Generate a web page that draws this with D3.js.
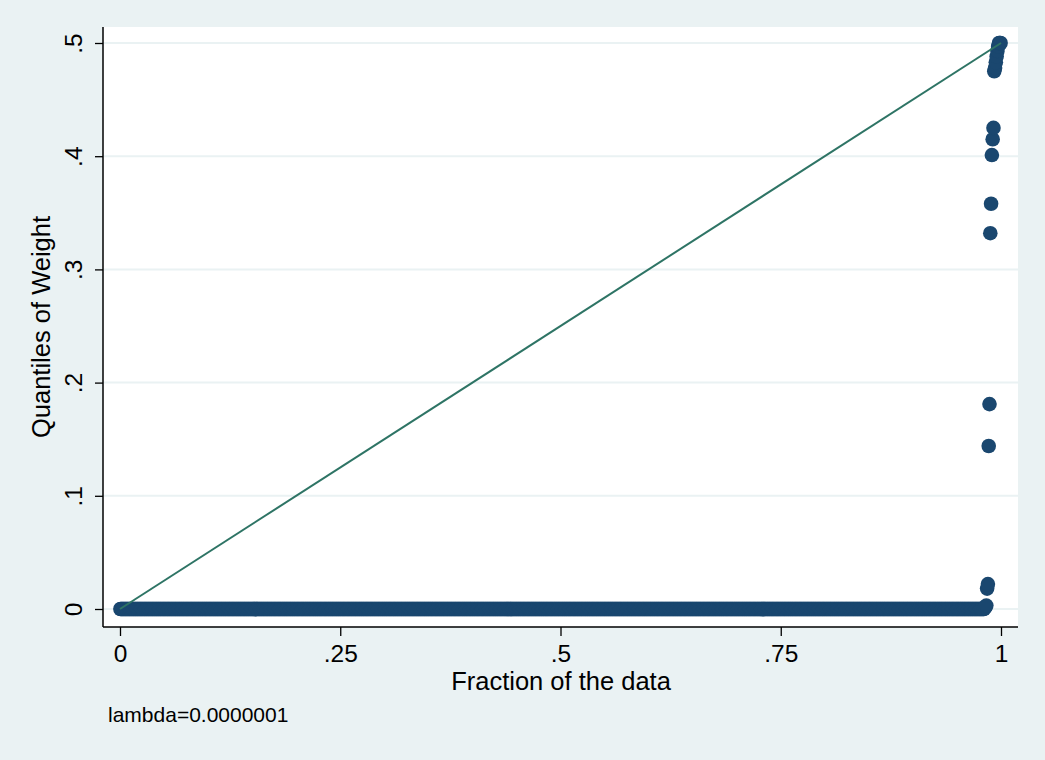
<!DOCTYPE html>
<html><head><meta charset="utf-8">
<script src="https://cdn.jsdelivr.net/npm/d3@7"></script>
<style>body{margin:0;background:#eaf2f3;} svg{display:block;} text{font-family:"Liberation Sans",Arial,sans-serif;}</style>
</head><body>
<script>
// Data
const zeroCount = 1090;            // observations with weight ~0 (the thick band)
const tailValues = [0.001, 0.002, 0.003, 0.018, 0.022, 0.144, 0.181, 0.332, 0.358, 0.401, 0.415, 0.425,
                    0.475, 0.478, 0.483, 0.488, 0.493, 0.497, 0.5, 0.5, 0.5];
const xTicks = [0, 0.25, 0.5, 0.75, 1];
const xTickLabels = ["0", ".25", ".5", ".75", "1"];
const yTicks = [0, 0.1, 0.2, 0.3, 0.4, 0.5];
const yTickLabels = ["0", ".1", ".2", ".3", ".4", ".5"];
const xTitle = "Fraction of the data";
const yTitle = "Quantiles of Weight";
const note = "lambda=0.0000001";

const values = new Array(zeroCount).fill(0).concat(tailValues);
const N = values.length;
const pts = values.map((v, i) => ({f: (i + 0.5) / N, v}));

const W = 1045, H = 760;
const svg = d3.select("body").append("svg").attr("width", W).attr("height", H);
svg.append("rect").attr("width", W).attr("height", H).attr("fill", "#eaf2f3");

const plot = {l: 103, r: 1018, t: 27, b: 627};
svg.append("rect").attr("x", plot.l).attr("y", plot.t).attr("width", plot.r - plot.l)
   .attr("height", plot.b - plot.t).attr("fill", "#ffffff");

const x = d3.scaleLinear().domain([0, 1]).range([120, 1001]);
const y = d3.scaleLinear().domain([0, 0.5]).range([609, 43]);

// gridlines
svg.append("g").selectAll("line").data(yTicks).join("line")
  .attr("x1", plot.l).attr("x2", plot.r).attr("y1", d => y(d)).attr("y2", d => y(d))
  .attr("stroke", "#eaf2f3").attr("stroke-width", 2);

// points
svg.append("g").selectAll("circle").data(pts).join("circle")
  .attr("cx", d => x(d.f)).attr("cy", d => y(d.v)).attr("r", 7.3)
  .attr("fill", "#1a476f");

// reference line
const ext = d3.extent(values);
svg.append("line").attr("x1", x(0)).attr("y1", y(ext[0])).attr("x2", x(1)).attr("y2", y(ext[1]))
  .attr("stroke", "#2e7465").attr("stroke-width", 2);

// axes
const yAxis = svg.append("g").attr("transform", `translate(${plot.l},0)`)
  .call(d3.axisLeft(y).tickValues(yTicks).tickFormat((d, i) => yTickLabels[i]).tickSize(8).tickPadding(0));
yAxis.select(".domain").attr("d", `M0,${plot.t}V${plot.b}`).attr("stroke", "#000").attr("stroke-width", 1.5);
yAxis.selectAll(".tick line").attr("stroke", "#000").attr("stroke-width", 1.3);
yAxis.selectAll(".tick text").attr("transform", "rotate(-90)").attr("x", 0).attr("y", -21)
  .attr("text-anchor", "middle").attr("dy", 0).attr("font-size", 24.5).attr("fill", "#000")
  .attr("font-family", "Liberation Sans, Arial, sans-serif");

const xAxis = svg.append("g").attr("transform", `translate(0,${plot.b})`)
  .call(d3.axisBottom(x).tickValues(xTicks).tickFormat((d, i) => xTickLabels[i]).tickSize(9).tickPadding(0));
xAxis.select(".domain").attr("d", `M${plot.l},0H${plot.r}`).attr("stroke", "#000").attr("stroke-width", 1.5);
xAxis.selectAll(".tick line").attr("stroke", "#000").attr("stroke-width", 1.3);
xAxis.selectAll(".tick text").attr("y", 35).attr("dy", 0).attr("font-size", 24.5).attr("fill", "#000")
  .attr("font-family", "Liberation Sans, Arial, sans-serif");

svg.append("text").attr("x", 561).attr("y", 690).attr("text-anchor", "middle")
  .attr("font-size", 25.5).text(xTitle);
svg.append("text").attr("transform", "translate(50,327) rotate(-90)").attr("text-anchor", "middle")
  .attr("font-size", 25.5).text(yTitle);
svg.append("text").attr("x", 108).attr("y", 722).attr("font-size", 21).text(note);
</script>
</body></html>
